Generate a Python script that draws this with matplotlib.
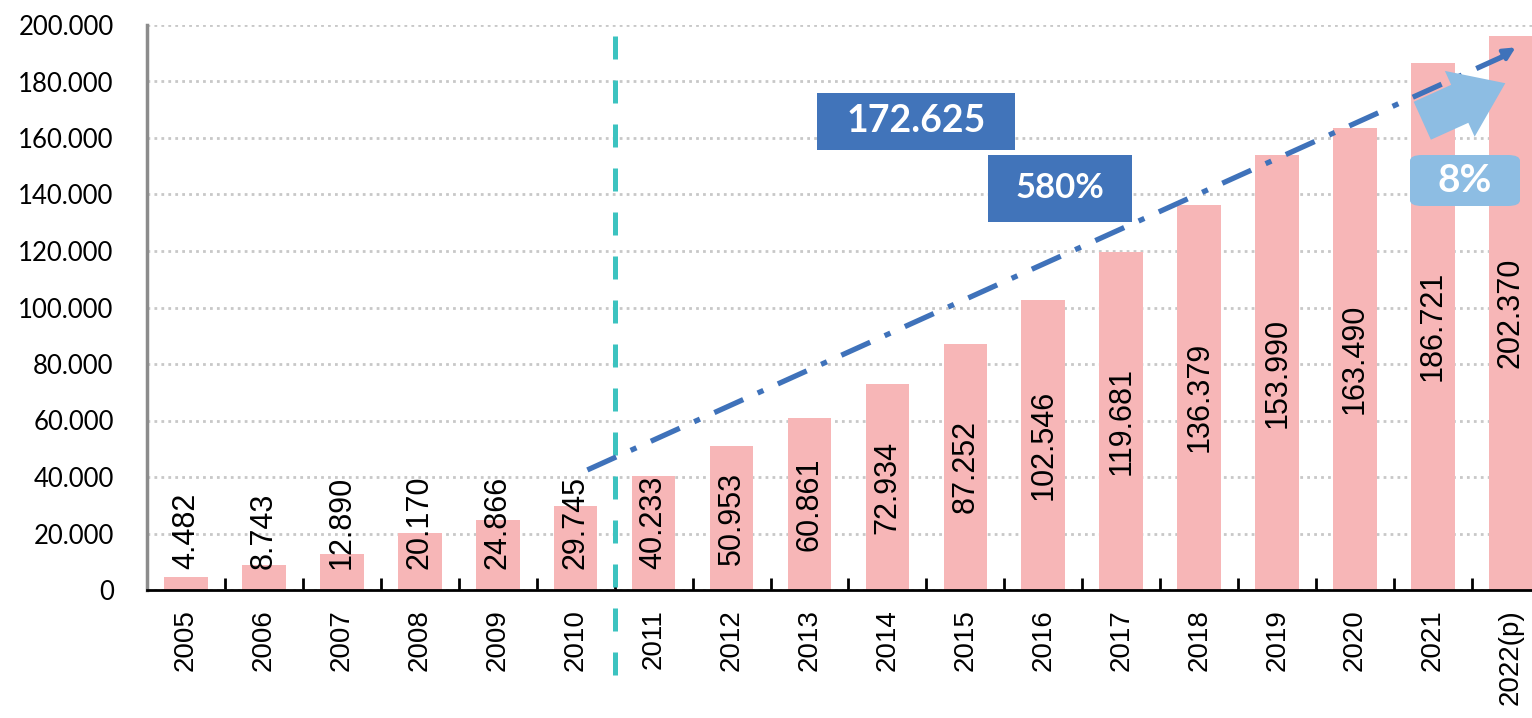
import matplotlib.pyplot as plt
from matplotlib.patches import Rectangle, FancyBboxPatch, FancyArrowPatch

# Data
years = ['2005', '2006', '2007', '2008', '2009', '2010', '2011', '2012', '2013',
         '2014', '2015', '2016', '2017', '2018', '2019', '2020', '2021', '2022(p)']
values = [4482, 8743, 12890, 20170, 24866, 29745, 40233, 50953, 60861,
          72934, 87252, 102546, 119681, 136379, 153990, 163490, 186721, 202370]
# drawn bar heights (the 2022 bar stops just below the top of the axis)
heights = values[:-1] + [196000]
labels = ['4.482', '8.743', '12.890', '20.170', '24.866', '29.745', '40.233', '50.953',
          '60.861', '72.934', '87.252', '102.546', '119.681', '136.379', '153.990',
          '163.490', '186.721', '202.370']
yticks = list(range(0, 200001, 20000))
ytick_labels = ['0'] + [f'{t // 1000}.000' for t in yticks[1:]]

W, H = 1532, 718
fig = plt.figure(figsize=(W / 100, H / 100), dpi=100)
ax = fig.add_axes([147 / W, 1 - 590 / H, 1 - 147 / W, 565 / H])

x = list(range(len(years)))
ax.bar(x, heights, width=0.56, color='#F7B6B7', zorder=2)

# value labels, rotated inside / above the bars
for xi, v, lab in zip(x, values, labels):
    if v < 50000:
        ax.text(xi, 7500, lab, rotation=90, ha='center', va='bottom',
                fontsize=22, family='Liberation Sans', zorder=4)
    else:
        ax.text(xi, min(v, 196000) / 2, lab, rotation=90, ha='center', va='center',
                fontsize=22, family='Liberation Sans', zorder=4)

ax.set_xlim(-0.5, 17.27)
ax.set_ylim(0, 200000)
ax.tick_params(axis='y', length=0, pad=24)
ax.tick_params(axis='x', which='major', length=0, pad=14)
ax.tick_params(axis='x', which='minor', direction='in', length=9, width=2, color='black')
ax.set_yticks(yticks)
ax.set_yticklabels(ytick_labels, family='Lato', fontsize=18.5)
ax.set_xticks(x)
ax.set_xticklabels(years, rotation=90, family='Liberation Sans', fontsize=20)
ax.set_xticks([i + 0.5 for i in x[:-1]], minor=True)

ax.grid(axis='y', linestyle=(0, (1, 1.5)), color='#C8C8C8', linewidth=2, zorder=0)
for s in ['top', 'right']:
    ax.spines[s].set_visible(False)
ax.spines['bottom'].set_color('black')
ax.spines['bottom'].set_linewidth(2)
ax.spines['bottom'].set_zorder(5)
ax.spines['left'].set_color('#8C8C8C')
ax.spines['left'].set_linewidth(2.5)

# dashed separator between 2010 and 2011
ax.plot([5.5, 5.5], [-30000, 198000], color='#3CC3C0', linewidth=3.6,
        linestyle=(0, (4.6, 4.2)), clip_on=False, zorder=3)

# dash-dot trend line with arrowhead
ax.plot([5.15, 16.95], [42500, 189500], color='#3F72BA', linewidth=3.8,
        linestyle=(0, (6, 3, 1.2, 3)), zorder=3, solid_capstyle='butt')
ax.annotate('', xy=(17.09, 192600), xytext=(16.85, 188500),
            arrowprops=dict(arrowstyle='-|>,head_width=0.35,head_length=0.7',
                            color='#3F72BA', lw=3), zorder=3)

# fat light-blue arrow
ax.add_patch(FancyArrowPatch((15.83, 165700), (16.96, 179800),
                             arrowstyle='simple,head_width=2.6,head_length=1.8,tail_width=1.5',
                             mutation_scale=20, color='#8DBDE3', lw=0, zorder=4))

# annotation boxes
def box(x0, y0, x1, y1, text, color, fs, rounded=False):
    if rounded:
        p = FancyBboxPatch((x0 / W, 1 - y1 / H), (x1 - x0) / W, (y1 - y0) / H,
                           boxstyle='round,pad=0,rounding_size=0.008',
                           transform=fig.transFigure, color=color, lw=0, zorder=6)
    else:
        p = Rectangle((x0 / W, 1 - y1 / H), (x1 - x0) / W, (y1 - y0) / H,
                      transform=fig.transFigure, color=color, lw=0, zorder=6)
    fig.add_artist(p)
    fig.text((x0 + x1) / 2 / W, 1 - (y0 + y1) / 2 / H, text, color='white',
             fontsize=fs, fontweight='bold', family='Lato', ha='center', va='center', zorder=7)

box(817, 93, 1015, 150, '172.625', '#4174BA', 27)
box(988, 155, 1132, 222, '580%', '#4174BA', 25)
box(1410, 155, 1520, 206, '8%', '#8DBDE3', 28, rounded=True)

fig.savefig('out.png', dpi=100)
